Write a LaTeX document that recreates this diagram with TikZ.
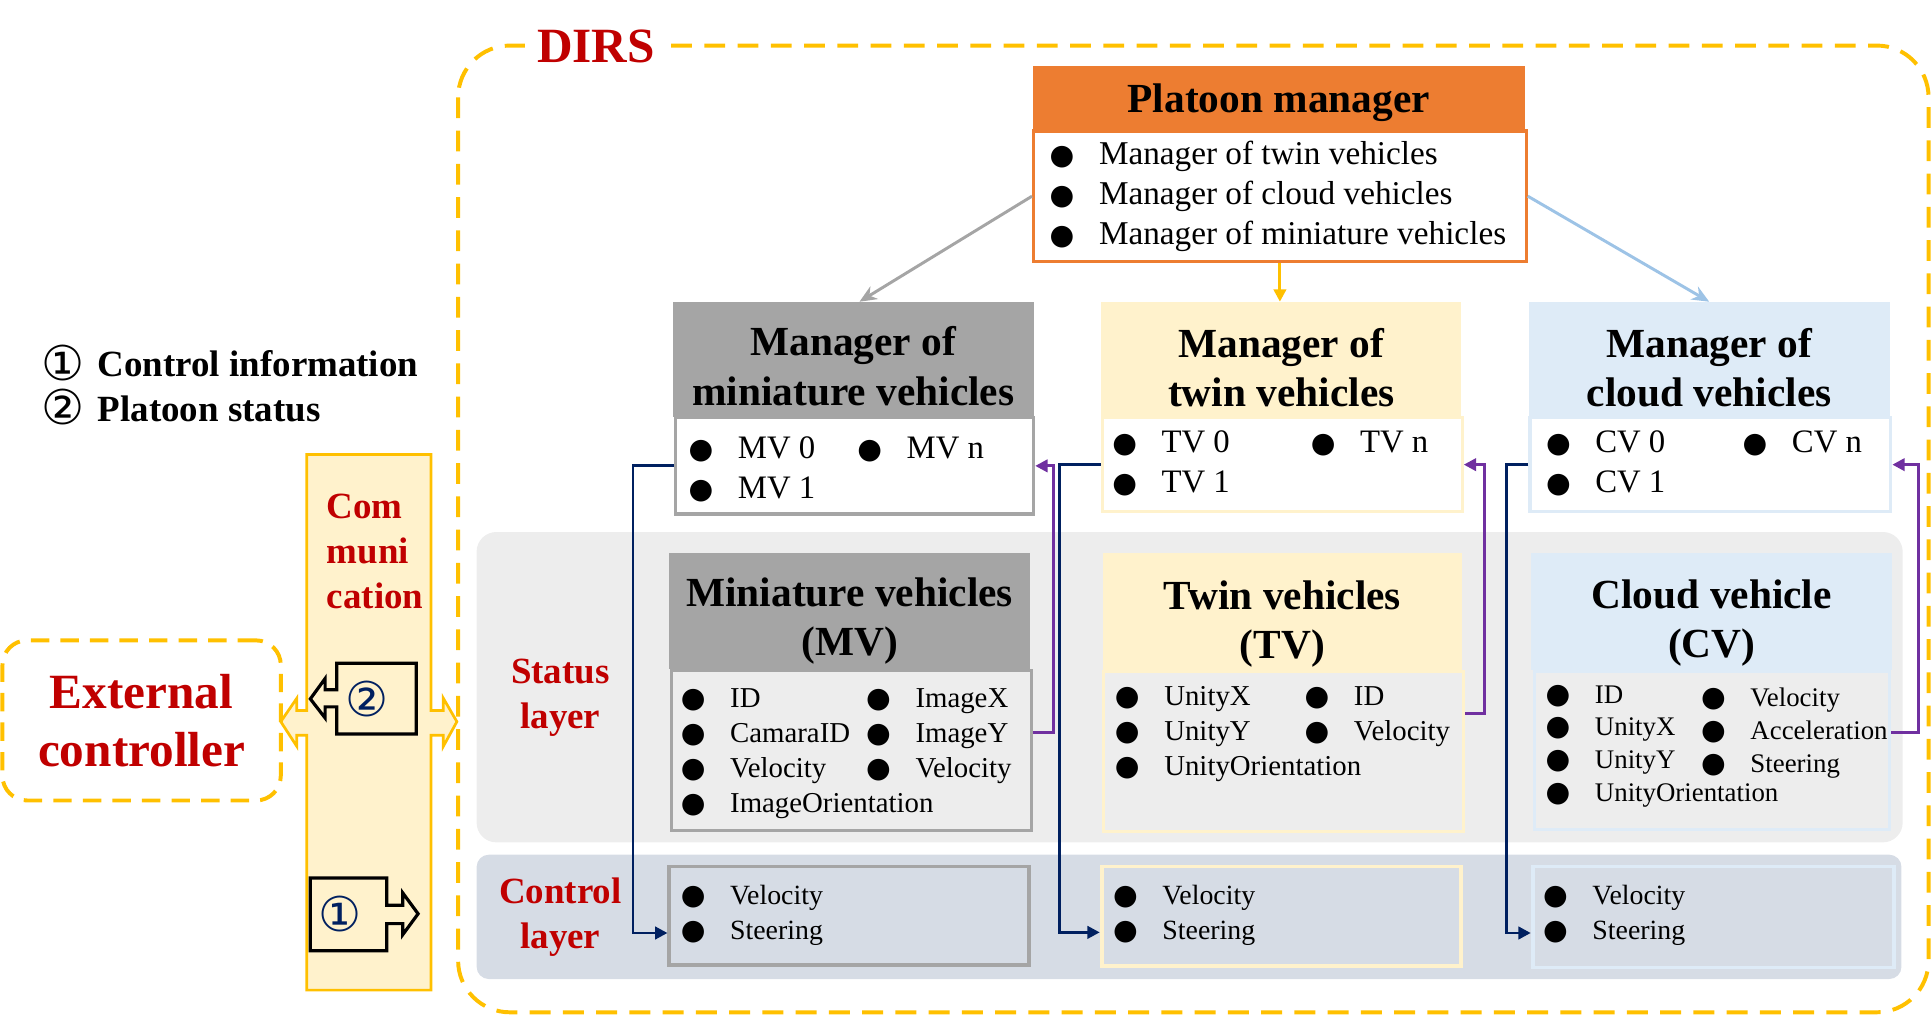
\documentclass[tikz,border=0pt]{standalone}
\usepackage{fontspec}
\setmainfont{Liberation Serif}
\newfontfamily\symfont{DejaVu Sans}
\usetikzlibrary{arrows.meta}
\definecolor{dirsyellow}{HTML}{FFC000}
\definecolor{dirsred}{HTML}{C00000}
\definecolor{pmorange}{HTML}{ED7D31}
\definecolor{mvgray}{HTML}{A5A5A5}
\definecolor{tvyellow}{HTML}{FFF2CC}
\definecolor{cvblue}{HTML}{DEEBF7}
\definecolor{statusbg}{HTML}{EDEDED}
\definecolor{controlbg}{HTML}{D6DCE5}
\definecolor{navyline}{HTML}{002060}
\definecolor{purpleline}{HTML}{7030A0}
\definecolor{cvarrow}{HTML}{9DC3E6}
\newcommand{\headfont}{\fontsize{16.8}{20}\selectfont\bfseries}
\newcommand{\redfont}{\fontsize{15}{18.25}\selectfont\bfseries}
\newcommand{\bigredfont}{\fontsize{20}{23.5}\selectfont\bfseries}
\newcommand{\dotitem}{\makebox[0pt][c]{\symfont\fontsize{11.5}{11.5}\selectfont ●}\hspace{15pt}}
\newcommand{\circnum}[1]{{\symfont\mdseries\fontsize{19.5}{19.5}\selectfont #1}}
\tikzset{
  % filled title bar of a block
  head/.style={anchor=north west, inner sep=0pt, fill=#1},
  headtext/.style={inner sep=0pt, font=\headfont, align=center},
  % framed list part of a block
  body/.style 2 args={anchor=north west, inner sep=0pt, draw=#1, fill=#2, line width=1.3pt},
  wh/.style 2 args={minimum width=#1*0.5pt, minimum height=#2*0.5pt},
  item/.style={anchor=base west, inner sep=0pt, yshift=-3.3pt},
  redtext/.style={text=dirsred, font=\redfont, align=center, inner sep=0pt},
  legend/.style={anchor=base west, inner sep=0pt, font=\fontsize{15}{18}\selectfont\bfseries},
  link/.style={line width=1.2pt, -{Triangle[length=5pt,width=5pt]}},
  blockarrow/.style={draw=black, line width=1.3pt, line join=miter},
}
\begin{document}
\begin{tikzpicture}[x=0.5pt,y=-0.5pt]
\useasboundingbox (0,0) rectangle (1568,824);
% layers
\fill[statusbg, rounded corners=8pt] (387,432) rectangle (1545,684);
\fill[controlbg, rounded corners=5pt] (387,694) rectangle (1544,795);
\draw[dirsyellow, line width=1.6pt, dash pattern=on 8.5pt off 5pt, rounded corners=21pt] (372,37) rectangle (1566,822);
\node[text=dirsred, font=\bigredfont, fill=white, inner xsep=5pt, inner ysep=1pt] (dirs) at (484,37.5) {DIRS};

% legend
\node[legend] (leg1) at (33,306) {\makebox[23pt][l]{\raisebox{-1.5pt}{\circnum{①}}}Control information};
\node[legend] (leg2) at (33,342) {\makebox[23pt][l]{\raisebox{-1.5pt}{\circnum{②}}}Platoon status};

% communication
\draw[dirsyellow, fill=tvyellow, line width=1.1pt] (249,369) -- (350,369) -- (350,577) -- (360,577) -- (360,567) -- (371,586) -- (360,606) -- (360,597) -- (350,597) -- (350,804) -- (249,804) -- (249,597) -- (241,597) -- (241,606) -- (228,586) -- (241,567) -- (241,577) -- (249,577) -- cycle;
\node[redtext, align=left, anchor=west] (comm) at (265,447.8) {Com\\muni\\cation};
\draw[blockarrow] (273.5,538.5) -- (338,538.5) -- (338,596) -- (273.5,596) -- (273.5,574) -- (264,574) -- (264,583) -- (252,567.5) -- (264,551) -- (264,560) -- (273.5,560) -- cycle;
\node[text=navyline, inner sep=0pt] (num2) at (298,567.7) {\circnum{②}};
\draw[blockarrow] (252,713) -- (314,713) -- (314,735) -- (327,735) -- (327,725) -- (339.5,742) -- (327,759) -- (327,750) -- (314,750) -- (314,772) -- (252,772) -- cycle;
\node[text=navyline, inner sep=0pt] (num1) at (276,742) {\circnum{①}};
\node[draw=dirsyellow, line width=1.6pt, dash pattern=on 7.5pt off 4.5pt, rounded corners=10pt, wh={226}{130}, text=dirsred, font=\bigredfont, align=center] (ext) at (115,585) {External\\controller};

\node[redtext] (statl) at (455,566.5) {Status\\layer};
\node[redtext] (ctrll) at (455,745) {Control\\layer};

% platoon manager
\node[head=pmorange, wh={400}{52}] (pm) at (838,53) {};
\node[headtext] (pmt) at ([yshift=-2pt]pm.center) {Platoon manager};
\node[body={pmorange}{white}, wh={400}{106}] (pmb) at (838,105) {};
\foreach \txt [count=\i] in {Manager of twin vehicles, Manager of cloud vehicles, Manager of miniature vehicles}
  \node[item, font=\fontsize{13.5}{15}\selectfont] (pmi\i) at (862,94.5+32.5*\i) {\dotitem\txt};

% managers
\node[head=mvgray, wh={293}{93}] (mvm) at (546,245) {};
\node[headtext] (mvmt) at ([yshift=-2.75pt]mvm.center) {Manager of\\miniature vehicles};
\node[body={mvgray}{white}, wh={291}{78}] (mvmb) at (547,338) {};
\node[head=tvyellow, wh={292}{93}] (tvm) at (894,245) {};
\node[headtext] (tvmt) at ([yshift=-3.25pt]tvm.center) {Manager of\\twin vehicles};
\node[body={tvyellow}{white}, wh={292}{76}] (tvmb) at (894,338) {};
\node[head=cvblue, wh={293}{93}] (cvm) at (1241,245) {};
\node[headtext] (cvmt) at ([yshift=-3.25pt]cvm.center) {Manager of\\cloud vehicles};
\node[body={cvblue}{white}, wh={293}{76}] (cvmb) at (1241,338) {};
\begin{scope}[every node/.append style={font=\fontsize{13.3}{15}\selectfont}]
  \node[item] (mv0) at (568.8,365.5) {\dotitem MV 0};
  \node[item] (mvn) at (705.8,365.5) {\dotitem MV n};
  \node[item] (mv1) at (568.8,398) {\dotitem MV 1};
  \node[item] (tv0) at (912.8,361) {\dotitem TV 0};
  \node[item] (tvn) at (1074,361) {\dotitem TV n};
  \node[item] (tv1) at (912.8,393) {\dotitem TV 1};
  \node[item] (cv0) at (1265,361) {\dotitem CV 0};
  \node[item] (cvn) at (1424.7,361) {\dotitem CV n};
  \node[item] (cv1) at (1265,393) {\dotitem CV 1};
\end{scope}

% status layer
\node[head=mvgray, wh={293}{94}] (mvs) at (543,449) {};
\node[headtext] (mvst) at ([yshift=-4pt]mvs.center) {Miniature vehicles\\(MV)};
\node[body={mvgray}{statusbg}, wh={292}{130}] (mvsb) at (544,543) {};
\node[head=tvyellow, wh={292}{95}] (tvs) at (895,449) {};
\node[headtext] (tvst) at ([yshift=-5pt]tvs.center) {Twin vehicles\\(TV)};
\node[body={tvyellow}{statusbg}, wh={292}{130}] (tvsb) at (895,544) {};
\node[head=cvblue, wh={293}{95}] (cvs) at (1243,449) {};
\node[headtext] (cvst) at ([yshift=-4.5pt]cvs.center) {Cloud vehicle\\(CV)};
\node[body={cvblue}{statusbg}, wh={288}{128}] (cvsb) at (1245,544) {};
\foreach \txt [count=\i] in {ID, CamaraID, Velocity, ImageOrientation}
  \node[item, font=\fontsize{11.7}{13}\selectfont] (mvsa\i) at (562.5,539.5+28.5*\i) {\dotitem\txt};
\foreach \txt [count=\i] in {ImageX, ImageY, Velocity}
  \node[item, font=\fontsize{11.7}{13}\selectfont] (mvsb\i) at (713,539.5+28.5*\i) {\dotitem\txt};
\foreach \txt [count=\i] in {UnityX, UnityY, UnityOrientation}
  \node[item, font=\fontsize{11.7}{13}\selectfont] (tvsa\i) at (915,538+28.4*\i) {\dotitem\txt};
\foreach \txt [count=\i] in {ID, Velocity}
  \node[item, font=\fontsize{11.7}{13}\selectfont] (tvsb\i) at (1069,538+28.4*\i) {\dotitem\txt};
\foreach \txt [count=\i] in {ID, UnityX, UnityY, UnityOrientation}
  \node[item, font=\fontsize{10.9}{12}\selectfont] (cvsa\i) at (1264.7,538+26.5*\i) {\dotitem\txt};
\foreach \txt [count=\i] in {Velocity, Acceleration, Steering}
  \node[item, font=\fontsize{10.9}{12}\selectfont] (cvsb\i) at (1391,540.8+26.6*\i) {\dotitem\txt};

% control layer
\node[body={mvgray}{controlbg}, wh={292}{80}, line width=1.6pt] (mvc) at (542,702) {};
\node[body={tvyellow}{controlbg}, wh={292}{81}, line width=1.6pt] (tvc) at (893,702) {};
\node[body={cvblue}{controlbg}, wh={293}{82}, line width=1.6pt] (cvc) at (1243,702) {};
\foreach \x/\v in {562.5/mv, 913.5/tv, 1262.7/cv} {
  \node[item, font=\fontsize{11.3}{13}\selectfont] (\v cv) at (\x,728) {\dotitem Velocity};
  \node[item, font=\fontsize{11.3}{13}\selectfont] (\v cs) at (\x,756.5) {\dotitem Steering};
}

% connectors
\draw[link, mvgray, -{Stealth[length=7pt,width=6pt]}] (pmb.west) -- ([xshift=2.5pt]mvm.north);
\draw[link, dirsyellow] (pmb.south) -- (pmb.south |- tvm.north);
\draw[link, cvarrow, -{Stealth[length=7pt,width=6pt]}] (pmb.east) -- (cvm.north);
\draw[link, navyline] (mvmb.west) -- ++(-33,0) |- ([yshift=-7pt]mvc.west);
\draw[link, navyline] (tvmb.west) -- ++(-34,0) |- ([yshift=-6.5pt]tvc.west);
\draw[link, navyline] (cvmb.west) -- ++(-17.5,0) |- ([yshift=-6.5pt]cvc.west);
\draw[link, purpleline] ([yshift=7.2pt]mvsb.east) -- ++(17,0) |- (mvmb.east);
\draw[link, purpleline] ([yshift=15.5pt]tvsb.east) -- ++(16,0) |- (tvmb.east);
\draw[link, purpleline] ([yshift=7.3pt]cvsb.east) -- ++(22,0) |- (cvmb.east);
\end{tikzpicture}
\end{document}
